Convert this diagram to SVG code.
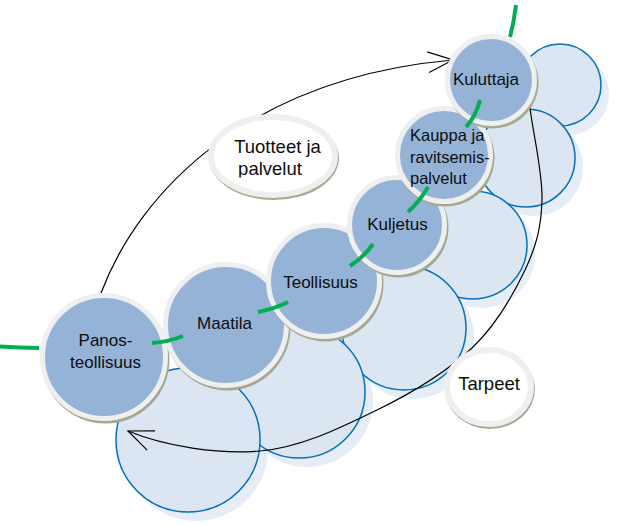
<svg xmlns="http://www.w3.org/2000/svg" width="625" height="525" viewBox="0 0 625 525">
  <style>
    .lshadow { fill: #e6edf6; }
    .lcircle { fill: #dce6f2; stroke: #0070c0; stroke-width: 1.5; }
    .mshadow { fill: #a5a891; }
    .mcircle { fill: #95b3d7; stroke: #efefef; stroke-width: 5; }
    .oshadow { fill: #a8ab92; }
    .oval { fill: #ffffff; stroke: #efefef; stroke-width: 6; }
    .conn { fill: none; stroke: #000000; stroke-width: 1.2; }
    .flow { fill: none; stroke: #00b050; stroke-width: 4; }
    .lbl { font-family: "Liberation Sans", Arial, sans-serif; font-size: 17px; fill: #0d0d0d; text-anchor: middle; }
    .big { font-size: 18.5px; }
    .start { text-anchor: start; font-size: 16.5px; }
  </style>
  <defs>
    <marker id="open-arrow" markerUnits="userSpaceOnUse" markerWidth="1" markerHeight="1" refX="0" refY="0" orient="auto" overflow="visible">
      <path d="M-25,-10.4 L0,0 L-25,10.4" fill="none" stroke="#000000" stroke-width="1.2"/>
    </marker>
    <clipPath id="clipTuotteet">
      <rect x="200" y="100" width="150" height="77.5"/>
    </clipPath>
  </defs>

  <g id="background-circles">
    <circle class="lshadow" cx="568" cy="94" r="41"/>
    <circle class="lshadow" cx="534" cy="167" r="49"/>
    <circle class="lshadow" cx="481" cy="254" r="54"/>
    <circle class="lshadow" cx="412" cy="337" r="62"/>
    <circle class="lshadow" cx="307" cy="401" r="66"/>
    <circle class="lshadow" cx="196" cy="449" r="72"/>
    <circle class="lcircle" cx="560" cy="85" r="41"/>
    <circle class="lcircle" cx="526" cy="158" r="49"/>
    <circle class="lcircle" cx="473" cy="245" r="54"/>
    <circle class="lcircle" cx="404" cy="328" r="62"/>
    <circle class="lcircle" cx="299" cy="392" r="66"/>
    <circle class="lcircle" cx="188" cy="440" r="72"/>
  </g>

  <g id="connectors">
    <path class="conn" d="M101,293 C140,190 250,78 453,60" marker-end="url(#open-arrow)"/>
    <path class="conn" d="M530,108 C533.3,134.7 542.8,173 542,200 C541.2,227 536.7,245.3 525,270 C513.3,294.7 496.7,324.7 472,348 C447.3,371.3 412.3,392.8 377,410 C341.7,427.2 301.5,447.5 260,451 C218.5,454.5 165,446.3 128,431" marker-end="url(#open-arrow)"/>
  </g>

  <g id="panosteollisuus">
    <circle class="mshadow" cx="105.5" cy="359.5" r="64"/>
    <circle class="mcircle" cx="104" cy="357" r="61.5"/>
    <text class="lbl" x="105.5" y="346">Panos-</text>
    <text class="lbl" x="105.5" y="368">teollisuus</text>
  </g>
  <g id="maatila">
    <circle class="mshadow" cx="227.5" cy="327.5" r="63"/>
    <circle class="mcircle" cx="226" cy="325" r="60.5"/>
    <text class="lbl" x="224.5" y="329">Maatila</text>
  </g>
  <g id="teollisuus">
    <circle class="mshadow" cx="325.5" cy="283.5" r="58"/>
    <circle class="mcircle" cx="324" cy="281" r="55.5"/>
    <text class="lbl" x="320.5" y="288">Teollisuus</text>
  </g>
  <g id="kuljetus">
    <circle class="mshadow" cx="398.5" cy="227.5" r="50"/>
    <circle class="mcircle" cx="397" cy="225" r="47.5"/>
    <text class="lbl" x="397.5" y="230">Kuljetus</text>
  </g>
  <g id="kauppa">
    <circle class="mshadow" cx="445.5" cy="157.5" r="49"/>
    <circle class="mcircle" cx="444" cy="155" r="46.5"/>
    <text class="lbl start" x="410" y="141">Kauppa ja</text>
    <text class="lbl start" x="410" y="163">ravitsemis-</text>
    <text class="lbl start" x="410" y="184">palvelut</text>
  </g>
  <g id="kuluttaja">
    <circle class="mshadow" cx="492.5" cy="82.5" r="46"/>
    <circle class="mcircle" cx="491" cy="80" r="43.5"/>
    <text class="lbl" x="486" y="85">Kuluttaja</text>
  </g>

  <g id="flow-line">
    <path class="flow" d="M0,346.5 Q20,348 39,348"/>
    <path class="flow" d="M152,343 Q168,342 183,336"/>
    <path class="flow" d="M258,312 Q274,309 288,302"/>
    <path class="flow" d="M350,266 Q364,257 373,244"/>
    <path class="flow" d="M408,212 Q420,201 428,187"/>
    <path class="flow" d="M466,127 Q476,116 480,100"/>
    <path class="flow" d="M510,37 Q514,22 516,5"/>
  </g>

  <g id="tuotteet-ja-palvelut">
    <ellipse class="oshadow" cx="274" cy="158" rx="65" ry="42"/>
    <ellipse class="oval" cx="273" cy="156" rx="62" ry="39"/>
    <g clip-path="url(#clipTuotteet)">
      <text class="lbl big" x="277.5" y="153">Tuotteet ja</text>
      <text class="lbl big" x="270" y="175">palvelut</text>
    </g>
  </g>
  <g id="tarpeet">
    <ellipse class="oshadow" cx="490" cy="389" rx="45" ry="40"/>
    <ellipse class="oval" cx="489" cy="387" rx="42" ry="37"/>
    <text class="lbl big" x="489" y="390">Tarpeet</text>
  </g>
</svg>
